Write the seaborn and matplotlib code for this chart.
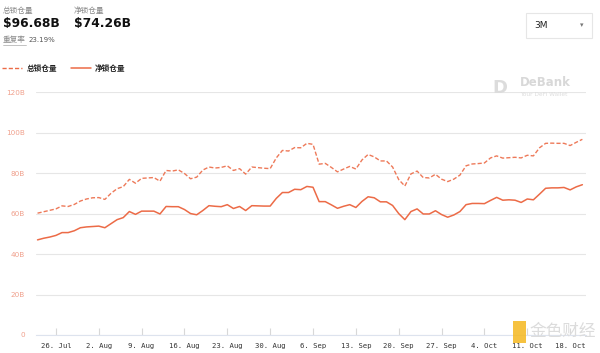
import numpy as np
import pandas as pd
import matplotlib
matplotlib.use('Agg')
import matplotlib.pyplot as plt
import matplotlib.dates as mdates
import seaborn as sns

# daily values, 2021-07-23 .. 2021-10-20, in billions USD
dates = pd.date_range('2021-07-23', '2021-10-20', freq='D')
total_tvl = [60.2, 60.9, 61.6, 62.3, 63.8, 63.5, 64.5, 66.2, 67.2, 67.8,
             67.9, 67.0, 70.0, 72.3, 73.3, 76.9, 75.0, 77.4, 77.6, 77.8,
             76.0, 81.3, 81.0, 81.6, 79.8, 77.2, 78.0, 81.5, 83.0, 82.5,
             82.8, 83.6, 81.3, 82.2, 79.5, 83.0, 82.7, 82.4, 82.2, 87.5,
             91.2, 90.9, 92.6, 92.5, 94.7, 94.2, 84.4, 84.8, 82.8, 80.6,
             82.0, 83.3, 82.0, 86.5, 89.2, 88.0, 86.0, 86.0, 83.0, 76.8,
             73.6, 79.6, 81.0, 77.8, 77.6, 79.4, 77.0, 75.8, 77.0, 79.0,
             83.6, 84.5, 84.7, 85.0, 87.5, 88.5, 87.4, 87.6, 87.8, 87.5,
             88.8, 88.5, 92.5, 94.7, 94.8, 94.7, 94.7, 93.6, 95.2, 96.68]
net_tvl = [47.0, 47.8, 48.4, 49.2, 50.6, 50.6, 51.5, 53.0, 53.4, 53.6,
           53.8, 53.0, 55.0, 57.0, 58.0, 61.0, 59.6, 61.2, 61.2, 61.2,
           59.8, 63.5, 63.4, 63.4, 62.0, 60.0, 59.4, 61.5, 63.9, 63.6,
           63.4, 64.4, 62.5, 63.5, 61.5, 63.9, 63.8, 63.7, 63.7, 67.5,
           70.4, 70.4, 72.0, 71.8, 73.4, 73.0, 65.9, 65.9, 64.3, 62.6,
           63.6, 64.4, 63.0, 66.0, 68.3, 67.8, 65.8, 65.8, 64.0, 60.0,
           57.0, 61.0, 62.3, 59.8, 59.8, 61.4, 59.5, 58.2, 59.3, 61.0,
           64.4, 65.0, 65.0, 64.9, 66.5, 68.0, 66.6, 66.8, 66.6, 65.5,
           67.2, 66.8, 69.6, 72.5, 72.7, 72.7, 72.9, 71.7, 73.2, 74.26]
y_ticks = [0, 20, 40, 60, 80, 100, 120]
y_labels = ['0', '20B', '40B', '60B', '80B', '100B', '120B']

LINE = '#ec6b47'

sns.set_theme(style='white')
plt.rcParams['font.family'] = ['Noto Sans CJK SC', 'DejaVu Sans']


def main():
    fig = plt.figure(figsize=(6, 3.53), dpi=100)
    ax = fig.add_axes([0.06, 0.051, 0.917, 0.688])

    df = pd.DataFrame({'date': dates, 'total': total_tvl, 'net': net_tvl})
    sns.lineplot(data=df, x='date', y='total', ax=ax, color=LINE,
                 linewidth=1.0, alpha=0.9)
    ax.lines[-1].set_dashes([3, 1.5])
    sns.lineplot(data=df, x='date', y='net', ax=ax, color=LINE, linewidth=1.1)
    for ln in ax.lines:
        ln.set_solid_joinstyle('round')
        ln.set_dash_joinstyle('round')

    ax.set_ylim(0, 120)
    ax.set_yticks(y_ticks)
    ax.set_yticklabels(y_labels, color='#f0a08c', fontsize=5.2,
                       family='DejaVu Sans')
    ax.set_xlim(pd.Timestamp('2021-07-22 18:00'), pd.Timestamp('2021-10-20 15:00'))
    ax.xaxis.set_major_locator(mdates.WeekdayLocator(byweekday=mdates.MO))
    ax.xaxis.set_major_formatter(mdates.DateFormatter('%-d. %b'))
    for lbl in ax.get_xticklabels():
        lbl.set_family('DejaVu Sans Mono')
        lbl.set_fontsize(5.2)
        lbl.set_color('#333333')
    ax.set_xlabel('')
    ax.set_ylabel('')
    ax.grid(axis='y', color='#e6e6e6', linewidth=0.8)
    ax.tick_params(axis='x', direction='in', length=5, color='#d8d8d8',
                   width=0.8, pad=6, bottom=True)
    ax.tick_params(axis='y', length=0, pad=8)
    for side in ['top', 'right', 'left']:
        ax.spines[side].set_visible(False)
    ax.spines['bottom'].set_color('#dde3ee')
    ax.spines['bottom'].set_linewidth(0.8)

    # header
    fig.text(3 / 600, 1 - 11 / 353, '总锁仓量', fontsize=5.5, color='#888888', va='center')
    fig.text(3 / 600, 1 - 24 / 353, '$96.68B', fontsize=8.8, color='#111111',
             va='center', family='DejaVu Sans', weight='semibold')
    fig.text(74 / 600, 1 - 11 / 353, '净锁仓量', fontsize=5.5, color='#888888', va='center')
    fig.text(74 / 600, 1 - 24 / 353, '$74.26B', fontsize=8.8, color='#111111',
             va='center', family='DejaVu Sans', weight='semibold')
    fig.text(3 / 600, 1 - 40 / 353, '重复率', fontsize=5.5, color='#888888', va='center')
    fig.add_artist(plt.Line2D([3 / 600, 26 / 600], [1 - 45 / 353] * 2,
                              color='#aaaaaa', linewidth=0.5))
    fig.text(29 / 600, 1 - 40 / 353, '23.19%', fontsize=5, color='#555555',
             va='center', family='DejaVu Sans')

    # dropdown
    box = plt.Rectangle((526 / 600, 1 - 38 / 353), 66 / 600, 25 / 353,
                        transform=fig.transFigure, facecolor='white',
                        edgecolor='#e6e6e6', linewidth=0.8)
    fig.add_artist(box)
    fig.text(534 / 600, 1 - 25.5 / 353, '3M', fontsize=6.5, color='#222222',
             va='center', family='DejaVu Sans')
    fig.text(582 / 600, 1 - 25.5 / 353, '▾', fontsize=5, color='#777777',
             va='center', ha='center', family='DejaVu Sans')

    # legend
    fig.add_artist(plt.Line2D([2 / 600, 22 / 600], [1 - 68 / 353] * 2,
                              color=LINE, linewidth=1.0, dashes=[3, 1.5]))
    fig.text(27 / 600, 1 - 68 / 353, '总锁仓量', fontsize=5.5, color='#222222',
             va='center', weight='bold')
    fig.add_artist(plt.Line2D([71 / 600, 91 / 600], [1 - 68 / 353] * 2,
                              color=LINE, linewidth=1.1))
    fig.text(95 / 600, 1 - 68 / 353, '净锁仓量', fontsize=5.5, color='#222222',
             va='center', weight='bold')

    # watermarks
    fig.text(492 / 600, 1 - 88 / 353, 'D', fontsize=13, color='#dcdcdc',
             va='center', weight='bold', family='DejaVu Sans')
    fig.text(520 / 600, 1 - 83 / 353, 'DeBank', fontsize=8.5, color='#d8d8d8',
             va='center', weight='bold', family='DejaVu Sans')
    fig.text(520 / 600, 1 - 95 / 353, 'Your DeFi Wallet', fontsize=4.2,
             color='#dddddd', va='center', family='DejaVu Sans')
    fig.add_artist(plt.Rectangle((513 / 600, 1 - 343 / 353), 13 / 600, 22 / 353,
                                 transform=fig.transFigure, facecolor='#f5b81e',
                                 edgecolor='none', alpha=0.85))
    fig.text(530 / 600, 1 - 331 / 353, '金色财经', fontsize=12, color='#dcdcdc',
             va='center')

    fig.savefig('out.png', dpi=100)
    plt.close(fig)


if __name__ == '__main__':
    main()
